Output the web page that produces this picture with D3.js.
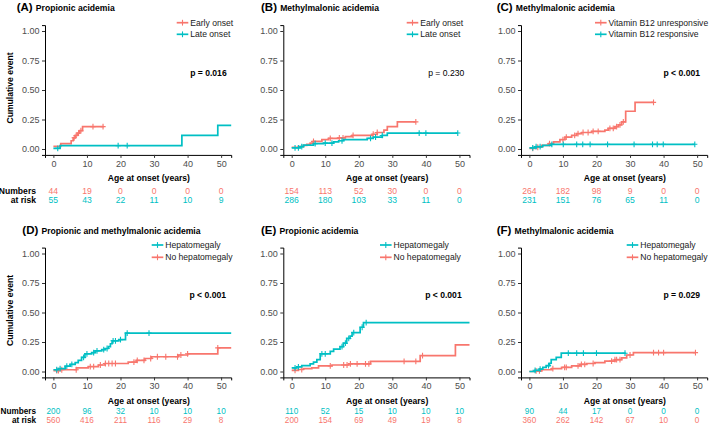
<!DOCTYPE html>
<html><head><meta charset="utf-8">
<script src="https://cdn.jsdelivr.net/npm/d3@7"></script>
<style>
html,body{margin:0;padding:0;background:#fff;}
svg{display:block;font-family:"Liberation Sans",Arial,Helvetica,sans-serif;}
</style></head>
<body>
<script>
// ---------- data ----------
const panelLetters = ["(A)","(B)","(C)","(D)","(E)","(F)"];
const panelTitles = ["Propionic acidemia","Methylmalonic acidemia","Methylmalonic acidemia",
  "Propionic and methylmalonic acidemia","Propionic acidemia","Methylmalonic acidemia"];
const pValues = ["p = 0.016","p = 0.230","p < 0.001","p < 0.001","p < 0.001","p = 0.029"];
const pBold = [true,false,true,true,true,true];
const legendA = ["Early onset","Late onset"];
const legendC = ["Vitamin B12 unresponsive","Vitamin B12 responsive"];
const legendD = ["Hepatomegaly","No hepatomegaly"];
const xTicks = [0,10,20,30,40,50];
const yTicks = [0,0.25,0.5,0.75,1];
const yTickLabels = ["0.00","0.25","0.50","0.75","1.00"];
const xTitle = "Age at onset (years)";
const yTitle = "Cumulative event";
const riskTitle = ["Numbers","at risk"];

// Panel A
const A_red_t = [0,2.2,5.3,5.9,6.5,7.2,7.8,8.7];
const A_red_v = [0.023,0.045,0.07,0.095,0.115,0.135,0.155,0.19];
const A_red_end = 15;
const A_red_cens = [6.2,6.8,7.5,8.2,11.8,14.8];
const A_teal_t = [0,2.0,38.3,49.0];
const A_teal_v = [0.005,0.028,0.115,0.2];
const A_teal_end = 53;
const A_teal_cens = [1.3,19.3,22.0];
const A_risk_red = [44,19,0,0,0,0];
const A_risk_teal = [55,43,22,11,10,9];

// Panel B
const B_red_t = [0,2,3.5,4.5,5.5,6.5,9,11,14,16,18,24,25.5,27.5,28.5,31.5];
const B_red_v = [0.015,0.02,0.03,0.04,0.05,0.065,0.08,0.09,0.095,0.105,0.115,0.125,0.14,0.16,0.19,0.23];
const B_red_end = 37;
const B_red_cens = [6.5,11.5,14.2,15.3,18.3,24.3,25.5,37];
const B_teal_t = [0,2.5,3.5,6.5,9.5,12.5,14,15.5,22.5,24.3,27,28.5];
const B_teal_v = [0.01,0.02,0.033,0.045,0.05,0.06,0.07,0.08,0.09,0.1,0.115,0.135];
const B_teal_end = 49.5;
const B_teal_cens = [1,2,3,7,10,12,15,23.5,25,27,38,40,49.5];
const B_risk_red = [154,113,52,30,0,0];
const B_risk_teal = [286,180,103,33,11,0];

// Panel C
const C_red_t = [0,1.7,3.7,5.7,7.2,9.1,10.6,12.6,14.1,15.6,18.6,22.5,23.5,25.5,26.5,27.5,28.7,31.5];
const C_red_v = [0.005,0.015,0.03,0.045,0.06,0.08,0.1,0.115,0.13,0.14,0.15,0.16,0.175,0.19,0.205,0.23,0.32,0.395];
const C_red_end = 37;
const C_red_cens = [1,2.5,6,10,11,13.5,14.5,16,17.5,19,20.5,24,25,26,27,28,37];
const C_teal_t = [0,2,4,6.5];
const C_teal_v = [0.01,0.02,0.03,0.04];
const C_teal_end = 49.3;
const C_teal_cens = [1,2,3.2,6.7,10.1,14.1,15.9,18.1,23.3,31.2,36.7,38.1,39.9,49.3];
const C_risk_red = [264,182,98,9,0,0];
const C_risk_teal = [231,151,76,65,11,0];

// Panel D
const D_teal_t = [0,1.5,3.5,5,6.5,7.4,8.4,9.4,11.4,12.4,14.4,15.4,16.4,17,17.5,19.5,21.5];
const D_teal_v = [0.015,0.025,0.045,0.06,0.075,0.095,0.12,0.15,0.16,0.175,0.185,0.195,0.21,0.235,0.26,0.27,0.325];
const D_teal_end = 53;
const D_teal_cens = [1,2,4,5.5,9,10,12,13,15,16,17.8,18.5,20,22,28.5];
const D_red_t = [0,2,6.9,10.4,13.4,15.4,22.3,24.8,27.3,29.3,37.2,40,49];
const D_red_v = [0.008,0.015,0.03,0.042,0.055,0.068,0.08,0.095,0.11,0.125,0.14,0.15,0.2];
const D_red_end = 53;
const D_red_cens = [1,1.5,2.5,6.8,11,12,14,15.5,16.5,17.5,18.5,24,25,27,29,31,33.5,37,38,40,49];
const D_risk_teal = [200,96,32,10,10,10];
const D_risk_red = [560,416,211,116,29,8];

// Panel E
const E_teal_t = [0,1.5,3,5.5,6.5,7.5,8.5,11.5,12.5,14.4,15.4,16.4,17.4,18,20.4,21.4];
const E_teal_v = [0.03,0.04,0.05,0.065,0.08,0.1,0.15,0.17,0.19,0.21,0.24,0.28,0.3,0.33,0.375,0.415];
const E_teal_end = 53;
const E_teal_cens = [1,2,9,10,15,16,17,18.5,21,22.2];
const E_red_t = [0,2,3.5,6,8,12,17,23.5,38.3,48.8];
const E_red_v = [0.01,0.017,0.025,0.03,0.048,0.055,0.065,0.085,0.135,0.225];
const E_red_end = 53;
const E_red_cens = [1,3,11.5,15.5,16.5,17.5,19.5,22,23,33.5,37,39];
const E_risk_teal = [110,52,15,10,10,10];
const E_risk_red = [200,154,69,49,19,8];

// Panel F
const F_teal_t = [0,1.7,3,4,5,6,6.5,8,9.5];
const F_teal_v = [0,0.01,0.02,0.035,0.05,0.07,0.1,0.12,0.155];
const F_teal_end = 28.7;
const F_teal_cens = [1.7,3.2,5.7,11.6,14.1,16.1,20,28.5];
const F_red_t = [0,1.5,3.7,6.7,9.6,12.6,15.1,17.1,19.5,22.5,25.5,27.5,29,31];
const F_red_v = [0,0.005,0.015,0.025,0.035,0.048,0.06,0.068,0.075,0.088,0.1,0.115,0.14,0.16];
const F_red_end = 49.5;
const F_red_cens = [2,3,7,10.5,11,14.5,15.5,16.5,19,24.5,25.5,26,27,30,37,38.5,40,49.5];
const F_risk_teal = [90,44,17,0,0,0];
const F_risk_red = [360,262,142,67,10,0];

// ---------- styling / layout ----------
const RED = "#F8766D", TEAL = "#00BFC4";
const W = 709, H = 426;
const colLeft = [45, 283.3, 521];
const rowTop = [0, 222.5];
const riskRowY = [[190.7, 200], [188.2, 197.7]];
const riskFont = ["8.6px", "8.2px"];
const titleX = [16.7, 261, 496.7, 22.3, 261, 496.7];
const legX = [176.7, 406.7, 595, 151.7, 380, 626.7];
const pX = [226.7, 464.3, 700, 226, 461.7, 700];

function mk(t, v, end, cens){ return {t, v, end, cens}; }
const panels = [
  {series:[{...mk(A_red_t,A_red_v,A_red_end,A_red_cens),c:RED},{...mk(A_teal_t,A_teal_v,A_teal_end,A_teal_cens),c:TEAL}],
   legend:[[legendA[0],RED],[legendA[1],TEAL]], risk:[[A_risk_red,RED],[A_risk_teal,TEAL]]},
  {series:[{...mk(B_red_t,B_red_v,B_red_end,B_red_cens),c:RED},{...mk(B_teal_t,B_teal_v,B_teal_end,B_teal_cens),c:TEAL}],
   legend:[[legendA[0],RED],[legendA[1],TEAL]], risk:[[B_risk_red,RED],[B_risk_teal,TEAL]]},
  {series:[{...mk(C_red_t,C_red_v,C_red_end,C_red_cens),c:RED},{...mk(C_teal_t,C_teal_v,C_teal_end,C_teal_cens),c:TEAL}],
   legend:[[legendC[0],RED],[legendC[1],TEAL]], risk:[[C_risk_red,RED],[C_risk_teal,TEAL]]},
  {series:[{...mk(D_red_t,D_red_v,D_red_end,D_red_cens),c:RED},{...mk(D_teal_t,D_teal_v,D_teal_end,D_teal_cens),c:TEAL}],
   legend:[[legendD[0],TEAL],[legendD[1],RED]], risk:[[D_risk_teal,TEAL],[D_risk_red,RED]]},
  {series:[{...mk(E_red_t,E_red_v,E_red_end,E_red_cens),c:RED},{...mk(E_teal_t,E_teal_v,E_teal_end,E_teal_cens),c:TEAL}],
   legend:[[legendD[0],TEAL],[legendD[1],RED]], risk:[[E_risk_teal,TEAL],[E_risk_red,RED]]},
  {series:[{...mk(F_red_t,F_red_v,F_red_end,F_red_cens),c:RED},{...mk(F_teal_t,F_teal_v,F_teal_end,F_teal_cens),c:TEAL}],
   legend:[[legendD[0],TEAL],[legendD[1],RED]], risk:[[F_risk_teal,TEAL],[F_risk_red,RED]]}
];

const svg = d3.select("body").append("svg").attr("width",W).attr("height",H);

function valAt(s, t){
  let v = s.v[0];
  for(let i=0;i<s.t.length;i++){ if(s.t[i] <= t) v = s.v[i]; }
  return v;
}

panels.forEach((p, i) => {
  const col = i % 3, row = Math.floor(i/3);
  const left = colLeft[col], top = rowTop[row];
  const x = d3.scaleLinear().domain([-2.5, 53]).range([left, left + 55.5*3.355]);
  const y = d3.scaleLinear().domain([-0.05, 1.05]).range([top + 154.9, top + 25.1]);
  const g = svg.append("g");

  const tt = g.append("text").attr("x", titleX[i]).attr("y", top + 11.3).attr("fill","#000");
  tt.append("tspan").attr("font-size","11.5px").attr("font-weight","bold").text(panelLetters[i] + " ");
  tt.append("tspan").attr("font-size","8.6px").attr("font-weight","bold").text(panelTitles[i]);

  const xa = g.append("g").attr("transform",`translate(0,${y(-0.05)})`)
    .call(d3.axisBottom(x).tickValues(xTicks).tickSize(3).tickPadding(2.5).tickFormat(d3.format("d")));
  const ya = g.append("g").attr("transform",`translate(${x(-2.5)},0)`)
    .call(d3.axisLeft(y).tickValues(yTicks).tickSize(3).tickPadding(2.5).tickFormat((d,k)=>yTickLabels[k]));
  [xa, ya].forEach(a => {
    a.select(".domain").attr("stroke","#000").attr("stroke-width",1);
    a.selectAll(".tick line").attr("stroke","#333").attr("stroke-width",1);
    a.selectAll(".tick text").attr("fill","#4D4D4D").attr("font-size","9px")
      .attr("font-family","Liberation Sans, Arial, sans-serif");
  });

  const line = d3.line().x(d=>x(d[0])).y(d=>y(d[1])).curve(d3.curveStepAfter);
  p.series.forEach(s => {
    const pts = s.t.map((t,k)=>[t, s.v[k]]);
    pts.push([s.end, s.v[s.v.length-1]]);
    g.append("path").attr("d", line(pts)).attr("fill","none")
      .attr("stroke", s.c).attr("stroke-width",1.7);
    s.cens.forEach(ct => {
      const cx = x(ct), cy = y(valAt(s, ct));
      g.append("path").attr("d",`M${cx-2.6},${cy}H${cx+2.6}M${cx},${cy-2.9}V${cy+2.9}`)
        .attr("stroke", s.c).attr("stroke-width",1.1);
    });
  });

  p.legend.forEach((L, k) => {
    const ly = top + (row===0 ? 22.7 + k*11.6 : 22.5 + k*12.3);
    const lx = legX[i];
    g.append("line").attr("x1",lx).attr("x2",lx+11.6).attr("y1",ly).attr("y2",ly)
      .attr("stroke",L[1]).attr("stroke-width",1.7);
    g.append("path").attr("d",`M${lx+5.8},${ly-2.9}V${ly+2.9}`).attr("stroke",L[1]).attr("stroke-width",1.1);
    g.append("text").attr("x", lx+13.5).attr("y", ly).attr("dy","0.35em")
      .attr("font-size","8.6px").attr("fill","#1a1a1a").text(L[0]);
  });

  g.append("text").attr("x", pX[i]).attr("y", top + 72.7).attr("dy","0.35em")
    .attr("text-anchor","end").attr("font-size","8.6px")
    .attr("font-weight", pBold[i] ? "bold" : "normal").attr("fill","#000").text(pValues[i]);

  g.append("text").attr("x", x(0) + 95.5).attr("y", top + 178.3).attr("dy","0.35em")
    .attr("text-anchor","middle").attr("font-size","8.6px").attr("font-weight","bold").text(xTitle);

  if(col===0){
    g.append("text").attr("transform",`translate(10,${top + 88}) rotate(-90)`)
      .attr("dy","0.35em").attr("text-anchor","middle").attr("font-size","8.6px")
      .attr("font-weight","bold").text(yTitle);
    riskTitle.forEach((rt,k)=>{
      g.append("text").attr("x",36).attr("y", top + riskRowY[row][k]).attr("dy","0.35em")
        .attr("text-anchor","end").attr("font-size",riskFont[row]).attr("font-weight","bold").text(rt);
    });
  }

  p.risk.forEach((R, k) => {
    R[0].forEach((n, j) => {
      g.append("text").attr("x", x(xTicks[j])).attr("y", top + riskRowY[row][k]).attr("dy","0.35em")
        .attr("text-anchor","middle").attr("font-size",riskFont[row]).attr("fill", R[1]).text(n);
    });
  });
});
</script>
</body></html>
